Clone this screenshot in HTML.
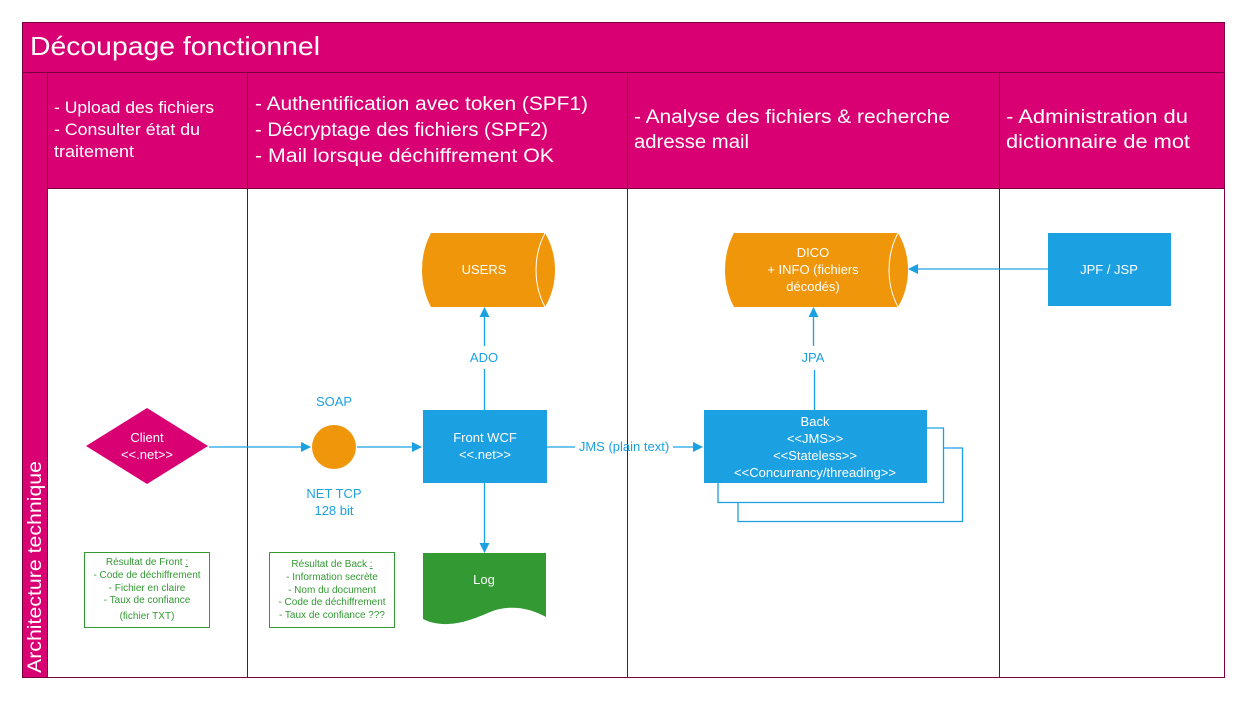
<!DOCTYPE html>
<html><head><meta charset="utf-8"><style>
html,body{margin:0;padding:0;background:#fff;width:1248px;height:702px;overflow:hidden}
svg{display:block}
text{font-family:"Liberation Sans",sans-serif}
</style></head><body>
<svg width="1248" height="702" viewBox="0 0 1248 702" xmlns="http://www.w3.org/2000/svg">
<defs>
<marker id="ah" markerWidth="10" markerHeight="10" refX="9" refY="5" orient="auto" markerUnits="userSpaceOnUse">
<path d="M0,0 L10,5 L0,10 z" fill="#1ba1e2"/></marker>
</defs>
<!-- frame -->
<rect x="22.5" y="22.5" width="1202" height="655" fill="#fff" stroke="#7a0040"/>
<rect x="22.5" y="22.5" width="1202" height="50" fill="#d80073" stroke="#7a0040"/>
<rect x="22.5" y="72.5" width="25" height="605" fill="#d80073" stroke="#7a0040"/>
<rect x="47.5" y="72.5" width="1177" height="116" fill="#d80073" stroke="#7a0040"/>
<line x1="247.5" y1="72" x2="247.5" y2="677" stroke="#7a0040"/>
<line x1="627.5" y1="72" x2="627.5" y2="677" stroke="#7a0040"/>
<line x1="999.5" y1="72" x2="999.5" y2="677" stroke="#7a0040"/>
<text x="30" y="55" font-size="26" fill="#fff" textLength="290" lengthAdjust="spacingAndGlyphs">Découpage fonctionnel</text>
<text transform="translate(41,673) rotate(-90)" font-size="19" fill="#fff" textLength="212" lengthAdjust="spacingAndGlyphs">Architecture technique</text>
<g fill="#fff" font-size="17">
<text x="54" y="113" textLength="160" lengthAdjust="spacingAndGlyphs">- Upload des fichiers</text>
<text x="54" y="135" textLength="146" lengthAdjust="spacingAndGlyphs">- Consulter état du</text>
<text x="54" y="157" textLength="80" lengthAdjust="spacingAndGlyphs">traitement</text>
</g>
<g fill="#fff" font-size="19">
<text x="255" y="110" textLength="333" lengthAdjust="spacingAndGlyphs">- Authentification avec token (SPF1)</text>
<text x="255" y="136" textLength="293" lengthAdjust="spacingAndGlyphs">- Décryptage des fichiers (SPF2)</text>
<text x="255" y="162" textLength="299" lengthAdjust="spacingAndGlyphs">- Mail lorsque déchiffrement OK</text>
<text x="634" y="123" textLength="316" lengthAdjust="spacingAndGlyphs">- Analyse des fichiers &amp; recherche</text>
<text x="634" y="148" textLength="115" lengthAdjust="spacingAndGlyphs">adresse mail</text>
<text x="1006" y="123" textLength="182" lengthAdjust="spacingAndGlyphs">- Administration du</text>
<text x="1006" y="148" textLength="184" lengthAdjust="spacingAndGlyphs">dictionnaire de mot</text>
</g>
<!-- USERS cylinder -->
<path d="M431,233 L545,233 Q555,250 555,270 Q555,290 545,307 L431,307 Q422,290 422,270 Q422,250 431,233 z" fill="#f0960a"/>
<path d="M545,233 Q536,250 536,270 Q536,290 545,307" fill="none" stroke="#fff" stroke-width="1"/>
<text x="484" y="274" font-size="13" fill="#fff" text-anchor="middle">USERS</text>
<!-- DICO cylinder -->
<path d="M734,233 L898,233 Q908,250 908,270 Q908,290 898,307 L734,307 Q725,290 725,270 Q725,250 734,233 z" fill="#f0960a"/>
<path d="M898,233 Q889,250 889,270 Q889,290 898,307" fill="none" stroke="#fff" stroke-width="1"/>
<g font-size="13" fill="#fff" text-anchor="middle">
<text x="813" y="257">DICO</text>
<text x="813" y="274">+ INFO (fichiers</text>
<text x="813" y="291">décodés)</text>
</g>
<!-- JPF -->
<rect x="1048" y="233" width="123" height="73" fill="#1ba1e2"/>
<text x="1109" y="274" font-size="13" fill="#fff" text-anchor="middle">JPF / JSP</text>
<line x1="1048" y1="269" x2="909" y2="269" stroke="#1ba1e2" stroke-width="1.3" marker-end="url(#ah)"/>
<!-- client -->
<polygon points="86,446 147,408 208,446 147,484" fill="#d80073"/>
<text x="147" y="442" font-size="13" fill="#fff" text-anchor="middle">Client</text>
<text x="147" y="459" font-size="13" fill="#fff" text-anchor="middle">&lt;&lt;.net&gt;&gt;</text>
<line x1="209" y1="447" x2="310" y2="447" stroke="#1ba1e2" stroke-width="1.3" marker-end="url(#ah)"/>
<circle cx="334" cy="447" r="22" fill="#f0960a"/>
<text x="334" y="406" font-size="13" fill="#1ba1e2" text-anchor="middle">SOAP</text>
<text x="334" y="498" font-size="13" fill="#1ba1e2" text-anchor="middle">NET TCP</text>
<text x="334" y="515" font-size="13" fill="#1ba1e2" text-anchor="middle">128 bit</text>
<line x1="357" y1="447" x2="421" y2="447" stroke="#1ba1e2" stroke-width="1.3" marker-end="url(#ah)"/>
<!-- Front -->
<rect x="423" y="410" width="124" height="73" fill="#1ba1e2"/>
<text x="485" y="442" font-size="13" fill="#fff" text-anchor="middle">Front WCF</text>
<text x="485" y="459" font-size="13" fill="#fff" text-anchor="middle">&lt;&lt;.net&gt;&gt;</text>
<line x1="484.5" y1="410" x2="484.5" y2="369" stroke="#1ba1e2" stroke-width="1.3"/>
<line x1="484.5" y1="346" x2="484.5" y2="308" stroke="#1ba1e2" stroke-width="1.3" marker-end="url(#ah)"/>
<text x="484" y="362" font-size="13" fill="#1ba1e2" text-anchor="middle">ADO</text>
<line x1="484.5" y1="483" x2="484.5" y2="552" stroke="#1ba1e2" stroke-width="1.3" marker-end="url(#ah)"/>
<line x1="547" y1="447" x2="575" y2="447" stroke="#1ba1e2" stroke-width="1.3"/>
<text x="624" y="451" font-size="13" fill="#1ba1e2" text-anchor="middle">JMS (plain text)</text>
<line x1="673" y1="447" x2="702" y2="447" stroke="#1ba1e2" stroke-width="1.3" marker-end="url(#ah)"/>
<!-- Back -->
<polyline points="738,502 738,521.5 962.5,521.5 962.5,448 943,448" fill="none" stroke="#1ba1e2" stroke-width="1.3"/>
<polyline points="718,483 718,502.5 943.5,502.5 943.5,428 927,428" fill="none" stroke="#1ba1e2" stroke-width="1.3"/>
<rect x="704" y="410" width="223" height="73" fill="#1ba1e2"/>
<g font-size="13" fill="#fff" text-anchor="middle">
<text x="815" y="426">Back</text>
<text x="815" y="443">&lt;&lt;JMS&gt;&gt;</text>
<text x="815" y="460">&lt;&lt;Stateless&gt;&gt;</text>
<text x="815" y="477">&lt;&lt;Concurrancy/threading&gt;&gt;</text>
</g>
<line x1="814.5" y1="410" x2="814.5" y2="370" stroke="#1ba1e2" stroke-width="1.3"/>
<line x1="813.5" y1="346" x2="813.5" y2="308" stroke="#1ba1e2" stroke-width="1.3" marker-end="url(#ah)"/>
<text x="813" y="362" font-size="13" fill="#1ba1e2" text-anchor="middle">JPA</text>
<!-- Log -->
<path d="M423,553 L546,553 L546,617 C530,608 510,604 490,612 C470,621 445,630 423,619 z" fill="#339933"/>
<text x="484" y="584" font-size="13" fill="#fff" text-anchor="middle">Log</text>
<!-- notes -->
<rect x="84.5" y="552.5" width="125" height="75" fill="#fff" stroke="#339933"/>
<g font-size="10" fill="#339933" text-anchor="middle">
<text x="147" y="565">Résultat de Front <tspan text-decoration="underline">:</tspan></text>
<text x="147" y="578">- Code de déchiffrement</text>
<text x="147" y="591">- Fichier en claire</text>
<text x="147" y="603">- Taux de confiance</text>
<text x="147" y="619">(fichier TXT)</text>
</g>
<rect x="269.5" y="552.5" width="125" height="75" fill="#fff" stroke="#339933"/>
<g font-size="10" fill="#339933" text-anchor="middle">
<text x="332" y="567">Résultat de Back <tspan text-decoration="underline">:</tspan></text>
<text x="332" y="580">- Information secrète</text>
<text x="332" y="593">- Nom du document</text>
<text x="332" y="605">- Code de déchiffrement</text>
<text x="332" y="618">- Taux de confiance ???</text>
</g>
</svg>
</body></html>
